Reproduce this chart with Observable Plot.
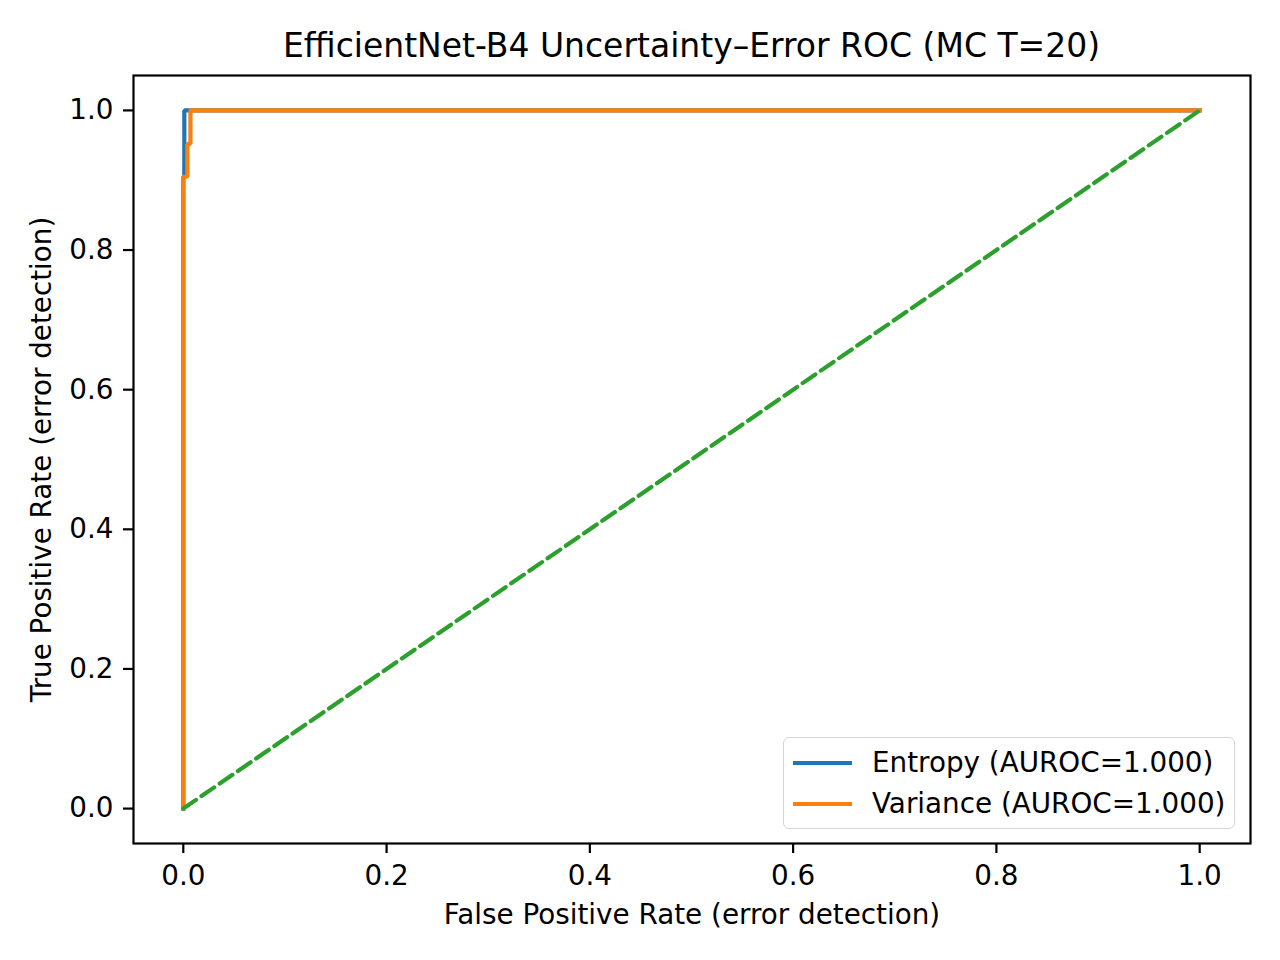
<!DOCTYPE html>
<html><head><meta charset="utf-8">
<script src="https://cdn.jsdelivr.net/npm/d3@7"></script>
<script src="https://cdn.jsdelivr.net/npm/@observablehq/plot@0.6"></script>
<style>
body{margin:0;background:#fff;font-family:"DejaVu Sans",sans-serif;}
#wrap{position:relative;width:1280px;height:960px;}
#title{position:absolute;left:133px;width:1117px;top:26px;text-align:center;font-size:33px;line-height:40px;color:#000;white-space:nowrap;}
#legend{position:absolute;left:783px;top:737px;width:450px;height:90px;border:1.6px solid #d6d6d6;border-radius:6px;background:rgba(255,255,255,0.8);}
.row{position:absolute;left:0;height:40px;display:flex;align-items:center;}
.sw{position:absolute;left:9px;width:59px;height:4px;}
.lab{position:absolute;left:88px;font-size:27.8px;line-height:40px;white-space:nowrap;color:#000;}
</style>
</head><body>
<div id="wrap">
<div id="title"></div>
<div id="chart"></div>
<div id="legend"></div>
</div>
<script>
const titleText = "EfficientNet-B4 Uncertainty–Error ROC (MC T=20)";
const xLabel = "False Positive Rate (error detection)";
const yLabel = "True Positive Rate (error detection)";
const xTicks = [0, 0.2, 0.4, 0.6, 0.8, 1.0];
const yTicks = [0, 0.2, 0.4, 0.6, 0.8, 1.0];
const seriesNames = ["Entropy (AUROC=1.000)", "Variance (AUROC=1.000)"];
const seriesColors = ["#1f77b4", "#ff7f0e"];
const entropyFPR = [0, 0, 0.001, 0.001, 1];
const entropyTPR = [0, 0.905, 0.905, 1, 1];
const varianceFPR = [0, 0, 0.004, 0.004, 0.007, 0.007, 1];
const varianceTPR = [0, 0.905, 0.905, 0.952, 0.952, 1, 1];
const chanceFPR = [0, 1];
const chanceTPR = [0, 1];
const chanceColor = "#2ca02c";

const toRows = (xs, ys) => xs.map((x, i) => ({x, y: ys[i]}));
const entropy = toRows(entropyFPR, entropyTPR);
const variance = toRows(varianceFPR, varianceTPR);
const chance = toRows(chanceFPR, chanceTPR);

document.getElementById("title").textContent = titleText;

const fmt = d3.format(".1f");
const plot = Plot.plot({
  width: 1280,
  height: 960,
  marginLeft: 133,
  marginRight: 30,
  marginTop: 75,
  marginBottom: 117,
  style: {fontFamily: "DejaVu Sans", fontSize: "27.8px", color: "#000", background: "transparent"},
  x: {domain: [-0.049, 1.05]},
  y: {domain: [-0.05, 1.05]},
  marks: [
    Plot.axisX({ticks: xTicks, tickFormat: fmt, tickSize: 10, tickPadding: 12, strokeWidth: 2.2, fontSize: 27.8, label: null}),
    Plot.axisY({ticks: yTicks, tickFormat: fmt, tickSize: 10, tickPadding: 10, strokeWidth: 2.2, fontSize: 27.8, label: null}),
    Plot.line(entropy, {x: "x", y: "y", stroke: seriesColors[0], strokeWidth: 4.2, strokeLinejoin: "miter", strokeLinecap: "square"}),
    Plot.line(variance, {x: "x", y: "y", stroke: seriesColors[1], strokeWidth: 4.2, strokeLinejoin: "miter", strokeLinecap: "square"}),
    Plot.line(chance, {x: "x", y: "y", stroke: chanceColor, strokeWidth: 4.2, strokeDasharray: "15.4,6.7"}),
    Plot.frame({stroke: "#000", strokeWidth: 2.2}),
    Plot.text([xLabel], {text: d => d, frameAnchor: "bottom", dy: 72, textAnchor: "middle", lineAnchor: "middle", fontSize: 27.8}),
    Plot.text([yLabel], {text: d => d, frameAnchor: "left", dx: -91, rotate: -90, textAnchor: "middle", lineAnchor: "middle", fontSize: 27.8})
  ]
});
document.getElementById("chart").appendChild(plot);

const legend = document.getElementById("legend");
seriesNames.forEach((name, i) => {
  const row = document.createElement("div");
  row.className = "row";
  row.style.top = (5 + i * 41) + "px";
  const sw = document.createElement("div");
  sw.className = "sw";
  sw.style.background = seriesColors[i];
  sw.style.top = "18px";
  const lab = document.createElement("div");
  lab.className = "lab";
  lab.style.top = "0px";
  lab.textContent = name;
  row.appendChild(sw);
  row.appendChild(lab);
  legend.appendChild(row);
});
</script>
</body></html>
